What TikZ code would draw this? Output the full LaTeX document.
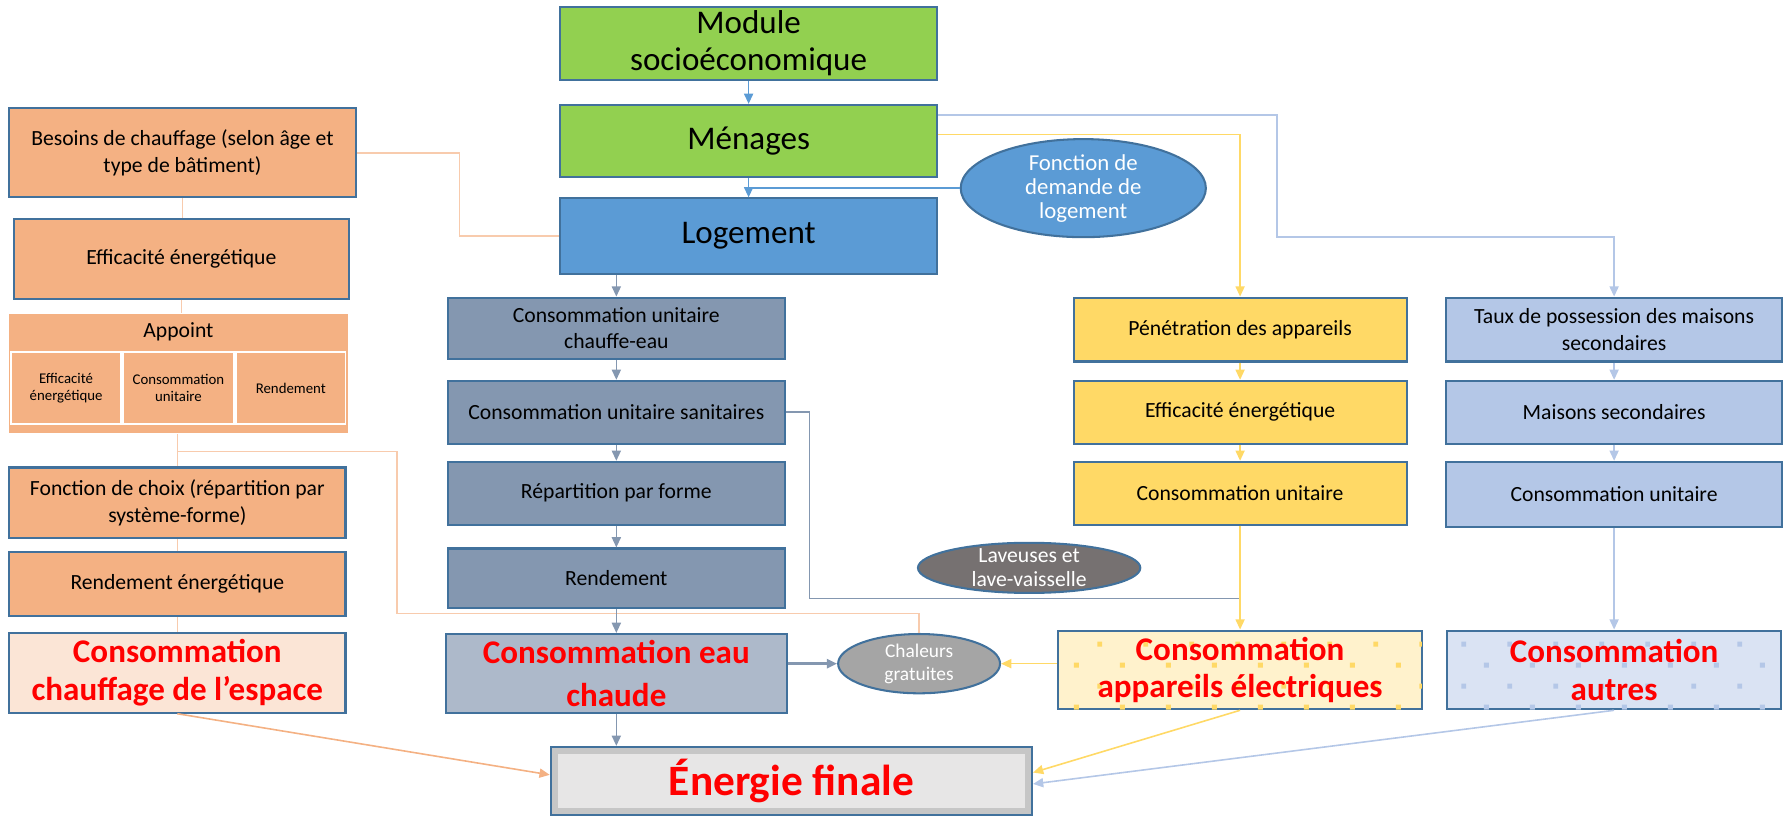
\documentclass[tikz,border=0pt]{standalone}
\usepackage{fontspec}
\setmainfont{Carlito}
\usetikzlibrary{shapes.geometric,arrows.meta,patterns}

\definecolor{boxborder}{HTML}{41719C}
\definecolor{greenfill}{HTML}{92D050}
\definecolor{bluefill}{HTML}{5B9BD5}
\definecolor{peachfill}{HTML}{F4B183}
\definecolor{peachlight}{HTML}{FBE5D6}
\definecolor{peachline}{HTML}{F8CBAD}
\definecolor{slatefill}{HTML}{8497B0}
\definecolor{slatelight}{HTML}{ADB9CA}
\definecolor{yellowfill}{HTML}{FFD966}
\definecolor{yellowlight}{HTML}{FFF2CC}
\definecolor{skyfill}{HTML}{B4C7E7}
\definecolor{skylight}{HTML}{DAE3F3}
\definecolor{darkgrayfill}{HTML}{767171}
\definecolor{grayfill}{HTML}{A5A5A5}
\definecolor{finalfill}{HTML}{E7E6E6}

% sparse squares used in the two result boxes on the right
\pgfdeclarepatternformonly{sparsesquares}{\pgfpointorigin}{\pgfqpoint{20pt}{18.4pt}}{\pgfqpoint{20pt}{18.4pt}}{%
  \pgfpathrectangle{\pgfqpoint{1pt}{1pt}}{\pgfqpoint{2.2pt}{2.2pt}}%
  \pgfpathrectangle{\pgfqpoint{11pt}{10.2pt}}{\pgfqpoint{2.2pt}{2.2pt}}%
  \pgfusepath{fill}}

\begin{document}
\begin{tikzpicture}[x=0.5pt, y=-0.5pt, >={Triangle[length=4.5pt,width=4pt]},
    box/.style={rectangle, draw=boxborder, line width=0.9pt, align=center, inner sep=1pt, font=\fontsize{9.5}{11.5}\selectfont},
    big/.style={font=\fontsize{14.5}{16}\selectfont},
    total/.style={text=red, font=\bfseries\fontsize{14.5}{16.5}\selectfont},
    bubble/.style={ellipse, draw=boxborder, line width=0.9pt, text=white, align=center, inner xsep=0pt, inner ysep=-3pt},
    cell/.style={rectangle, draw=white, line width=0.8pt, fill=peachfill, align=center, inner sep=0pt, font=\fontsize{6.5}{7.5}\selectfont},
    yellowdots/.style={fill=yellowlight, postaction={pattern=sparsesquares, pattern color=yellowfill}},
    skydots/.style={fill=skylight, postaction={pattern=sparsesquares, pattern color=skyfill}},
    finalbox/.style={rectangle, draw=boxborder, line width=0.9pt, fill=gray!45,
      path picture={\fill[finalfill] ([shift={(3pt,-3pt)}]path picture bounding box.north west) rectangle ([shift={(-3pt,3pt)}]path picture bounding box.south east);}},
    bline/.style={draw=bluefill, line width=0.7pt},
    sline/.style={draw=slatefill, line width=0.7pt},
    pline/.style={draw=peachline, line width=0.7pt},
    yline/.style={draw=yellowfill, line width=0.7pt},
    kline/.style={draw=skyfill, line width=0.7pt}]

    \useasboundingbox (0,0) rectangle (1568,716);

    % === Socio-economic chain ===
    \node[box, big, fill=greenfill, minimum width=165.5pt, minimum height=32pt] (module) at (656.5,38) {Module\\socioéconomique};
    \node[box, big, fill=greenfill, minimum width=165.5pt, minimum height=31.5pt] (menages) at (656.5,123.5) {Ménages};
    \node[box, big, fill=bluefill, minimum width=165.5pt, minimum height=33pt] (logement) at (656.5,207) {Logement};
    \node[bubble, fill=bluefill, minimum width=107.5pt, minimum height=43pt, font=\fontsize{10}{10.5}\selectfont] (fonction) at (950,165) {Fonction de\\demande de\\logement};

    % === Space heating (left) ===
    \node[box, fill=peachfill, minimum width=152pt, minimum height=39pt] (besoins) at (160,134) {Besoins de chauffage (selon âge et\\type de bâtiment)};
    \node[box, fill=peachfill, minimum width=147pt, minimum height=35pt] (efficaciteL) at (159,227) {Efficacité énergétique};

    \node[fill=peachfill, minimum width=148.5pt, minimum height=52.5pt, inner sep=0pt] (appoint) at (156.5,327.5) {};
    \node[rectangle, inner sep=0pt, minimum width=148.5pt, minimum height=16pt, font=\fontsize{9.5}{11.5}\selectfont] (appointtitle) at (156.5,291) {Appoint};
    \node[cell, minimum width=48pt, minimum height=31.5pt] (appointeff) at (58,340.5) {Efficacité\\énergétique};
    \node[cell, minimum width=48.5pt, minimum height=31.5pt] (appointcons) at (156.5,340.5) {Consommation\\unitaire};
    \node[cell, minimum width=48pt, minimum height=31.5pt] (appointrend) at (255,340.5) {Rendement};

    \node[box, fill=peachfill, minimum width=147.5pt, minimum height=31pt] (choix) at (155.5,441) {Fonction de choix (répartition par\\système-forme)};
    \node[box, fill=peachfill, minimum width=147.5pt, minimum height=28pt] (rendementL) at (155.5,512) {Rendement énergétique};
    \node[box, total, fill=peachlight, minimum width=147.5pt, minimum height=35pt] (chauffage) at (155.5,590) {Consommation\\chauffage de l’espace};

    % === Hot water (middle) ===
    \node[box, fill=slatefill, minimum width=147.5pt, minimum height=27pt] (chauffeeau) at (540.5,288) {Consommation unitaire\\chauffe-eau};
    \node[box, fill=slatefill, minimum width=147.5pt, minimum height=27.5pt] (sanitaires) at (540.5,361.5) {Consommation unitaire sanitaires};
    \node[box, fill=slatefill, minimum width=147.5pt, minimum height=27.5pt] (repartition) at (540.5,432.5) {Répartition par forme};
    \node[box, fill=slatefill, minimum width=147.5pt, minimum height=26pt] (rendementM) at (540.5,507) {Rendement};
    \node[box, total, fill=slatelight, minimum width=149.5pt, minimum height=34.5pt, font=\bfseries\fontsize{14.5}{19}\selectfont] (eauchaude) at (540.5,590.5) {Consommation eau\\chaude};

    \node[bubble, fill=darkgrayfill, minimum width=97.5pt, minimum height=22pt, font=\fontsize{9.5}{10.5}\selectfont] (laveuses) at (902.5,498) {Laveuses et\\lave-vaisselle};
    \node[bubble, fill=grayfill, minimum width=71pt, minimum height=26pt, font=\fontsize{8.5}{10}\selectfont] (chaleurs) at (806,582) {Chaleurs\\gratuites};

    % === Appliances ===
    \node[box, fill=yellowfill, minimum width=146pt, minimum height=28pt] (penetration) at (1087.5,289) {Pénétration des appareils};
    \node[box, fill=yellowfill, minimum width=146pt, minimum height=27.5pt] (efficaciteY) at (1087.5,361.5) {Efficacité énergétique};
    \node[box, fill=yellowfill, minimum width=146pt, minimum height=27.5pt] (unitaireY) at (1087.5,432.5) {Consommation unitaire};
    \node[box, total, yellowdots, minimum width=159.5pt, minimum height=34.5pt] (appareils) at (1087.5,587.5) {Consommation\\appareils électriques};

    % === Secondary homes ===
    \node[box, fill=skyfill, minimum width=147.5pt, minimum height=28pt] (taux) at (1415.5,289) {Taux de possession des maisons\\secondaires};
    \node[box, fill=skyfill, minimum width=147.5pt, minimum height=27.5pt] (maisons) at (1415.5,361.5) {Maisons secondaires};
    \node[box, fill=skyfill, minimum width=147.5pt, minimum height=28.5pt] (unitaireB) at (1415.5,433.5) {Consommation unitaire};
    \node[box, total, skydots, minimum width=146.5pt, minimum height=34.5pt] (autres) at (1415.5,587.5) {Consommation\\autres};

    % === Final energy ===
    \node[finalbox, text=red, font=\bfseries\fontsize{19}{22}\selectfont, minimum width=211pt, minimum height=30pt] (finale) at (694,685) {Énergie finale};

    % Connections (top)
    \draw[bline, ->] (module) -- (menages);
    \draw[bline, ->] (menages) -- (logement);
    \draw[bline] (fonction.west) -- (fonction.west -| logement.north);

    % Connections (left)
    \draw[pline] (besoins) -- (besoins |- efficaciteL.north);
    \draw[pline] (efficaciteL) -- (efficaciteL |- appoint.north);
    \draw[pline] (appoint.south -| choix.north) -- (choix.north);
    \draw[pline] (choix) -- (rendementL);
    \draw[pline] (rendementL) -- (chauffage);
    \draw[pline] (besoins.east) -- ++(90,0) |- (logement.west);
    \coordinate (appjoin) at (155.5,396);
    \draw[pline] (appjoin) -| (348,538) -| (chaleurs.north);
    \draw[pline, draw=peachfill, ->] (chauffage.south) -- ([yshift=2.75pt]finale.west);

    % Connections (middle)
    \draw[sline, ->] (logement.south -| chauffeeau.north) -- (chauffeeau.north);
    \draw[sline, ->] (chauffeeau) -- (sanitaires);
    \draw[sline, ->] (sanitaires) -- (repartition);
    \draw[sline, ->] (repartition) -- (rendementM);
    \draw[sline, ->] (rendementM) -- (eauchaude);
    \draw[sline, ->] (eauchaude.south) -- (eauchaude.south |- finale.north);
    \draw[sline, ->, line width=1.2pt] (chaleurs.west -| eauchaude.east) -- (chaleurs.west);
    \coordinate (lavjoin) at (1087.5,525);
    \draw[sline] (sanitaires.east) -- ++(21,0) |- (lavjoin);

    % Connections (appliances)
    \draw[yline, ->] ([yshift=2.75pt]menages.east) -| (penetration.north);
    \draw[yline, ->] (penetration) -- (efficaciteY);
    \draw[yline, ->] (efficaciteY) -- (unitaireY);
    \draw[yline, ->] (unitaireY) -- (appareils);
    \draw[yline, ->] (chaleurs.east -| appareils.west) -- (chaleurs.east);
    \draw[yline, ->] (appareils.south) -- ([yshift=3.75pt]finale.east);

    % Connections (secondary homes)
    \coordinate (skybend) at (1120,208);
    \draw[kline, ->] ([yshift=11.25pt]menages.east) -| (skybend) -| (taux.north);
    \draw[kline, ->] (taux) -- (maisons);
    \draw[kline, ->] (maisons) -- (unitaireB);
    \draw[kline, ->] (unitaireB) -- (autres);
    \draw[kline, ->] (autres.south) -- ([yshift=-1.25pt]finale.east);

\end{tikzpicture}
\end{document}
